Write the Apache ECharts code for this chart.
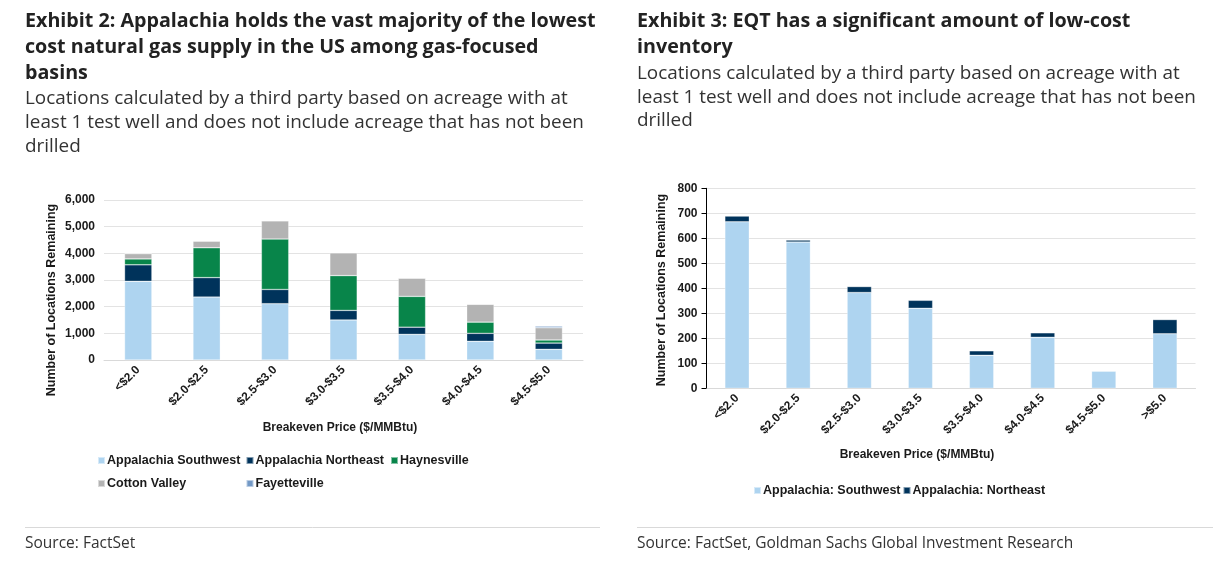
<!DOCTYPE html>
<html>
<head>
<meta charset="utf-8">
<script src="https://cdn.jsdelivr.net/npm/echarts@6/dist/echarts.min.js"></script>
<style>
html,body{margin:0;padding:0;background:#fff;}
#c{width:1213px;height:564px;}
</style>
</head>
<body>
<div id="c"></div>
<script>
// ---- Exhibit 2 data ----
const categoriesL = ['<$2.0', '$2.0-$2.5', '$2.5-$3.0', '$3.0-$3.5', '$3.5-$4.0', '$4.0-$4.5', '$4.5-$5.0'];
const appSouthwest = [2950, 2360, 2110, 1500, 960, 700, 400];
const appNortheast = [620, 730, 535, 360, 270, 300, 235];
const haynesville = [220, 1120, 1890, 1305, 1155, 420, 115];
const cottonValley = [200, 250, 685, 855, 685, 670, 460];
const fayetteville = [0, 0, 0, 0, 0, 0, 60];
const yTicksL = [0, 1000, 2000, 3000, 4000, 5000, 6000];

// ---- Exhibit 3 data ----
const categoriesR = ['<$2.0', '$2.0-$2.5', '$2.5-$3.0', '$3.0-$3.5', '$3.5-$4.0', '$4.0-$4.5', '$4.5-$5.0', '>$5.0'];
const eqtSouthwest = [666, 585, 383, 320, 132, 204, 69, 218];
const eqtNortheast = [23, 8, 24, 32, 18, 18, 0, 57];
const yTicksR = [0, 100, 200, 300, 400, 500, 600, 700, 800];

const C_SW = '#aed4f0', C_NE = '#00335b', C_HV = '#08854a', C_CV = '#b3b3b3', C_FV = '#7399c6';
const AX = 'Liberation Sans, Arial, sans-serif';
const TF = '"Open Sans", sans-serif';
const txt = '#1a1a1a';

const chart = echarts.init(document.getElementById('c'), null, {renderer: 'canvas'});

function legendItem(name, left, top) {
  return {
    data: [name], left: left, top: top, padding: 0, icon: 'rect',
    itemWidth: 7, itemHeight: 7, itemGap: 0,
    textStyle: {fontFamily: AX, fontWeight: 'bold', fontSize: 12.5, color: txt, padding: [0, 0, 0, -3]}
  };
}
function barSeries(name, data, color, stack, xi) {
  return {
    type: 'bar', name: name, data: data, stack: stack, barWidth: '40%',
    xAxisIndex: xi, yAxisIndex: xi,
    itemStyle: {color: color, borderColor: 'rgba(255,255,255,0.5)', borderWidth: 0.6},
    emphasis: {disabled: true}
  };
}

const option = {
  animation: false,
  backgroundColor: '#ffffff',
  title: [
    {text: 'Exhibit 2: Appalachia holds the vast majority of the lowest\ncost natural gas supply in the US among gas-focused\nbasins',
     left: 25, top: 8, padding: 0,
     textStyle: {fontFamily: TF, fontWeight: 'bold', fontSize: 19.7, lineHeight: 26, color: '#222'}},
    {text: 'Locations calculated by a third party based on acreage with at\nleast 1 test well and does not include acreage that has not been\ndrilled',
     left: 25, top: 87, padding: 0,
     textStyle: {fontFamily: TF, fontWeight: 'normal', fontSize: 18.9, lineHeight: 24, color: '#333'}},
    {text: 'Exhibit 3: EQT has a significant amount of low-cost\ninventory',
     left: 637, top: 8, padding: 0,
     textStyle: {fontFamily: TF, fontWeight: 'bold', fontSize: 19.7, lineHeight: 26, color: '#222'}},
    {text: 'Locations calculated by a third party based on acreage with at\nleast 1 test well and does not include acreage that has not been\ndrilled',
     left: 637, top: 62, padding: 0,
     textStyle: {fontFamily: TF, fontWeight: 'normal', fontSize: 18.9, lineHeight: 23.5, color: '#333'}},
    {text: 'Source: FactSet', left: 25, top: 535.5, padding: 0,
     textStyle: {fontFamily: TF, fontWeight: 'normal', fontSize: 15.5, color: '#333'}},
    {text: 'Source: FactSet, Goldman Sachs Global Investment Research', left: 637, top: 535.5, padding: 0,
     textStyle: {fontFamily: TF, fontWeight: 'normal', fontSize: 15.5, color: '#333'}}
  ],
  legend: [
    legendItem('Appalachia Southwest', 97, 454),
    legendItem('Appalachia Northeast', 245.5, 454),
    legendItem('Haynesville', 390, 454),
    legendItem('Cotton Valley', 97, 477),
    legendItem('Fayetteville', 245.5, 477),
    legendItem('Appalachia: Southwest', 753, 484),
    legendItem('Appalachia: Northeast', 902.5, 484)
  ],
  grid: [
    {left: 104, top: 200, width: 479, height: 160, containLabel: false},
    {left: 706.5, top: 188.3, width: 489, height: 200, containLabel: false}
  ],
  xAxis: [
    {type: 'category', gridIndex: 0, data: categoriesL,
     axisLine: {show: true, lineStyle: {color: '#d9d9d9', width: 1}},
     axisTick: {show: false},
     axisLabel: {interval: 0, rotate: 45, margin: 8, fontFamily: AX, fontWeight: 'bold', fontSize: 12, color: txt}},
    {type: 'category', gridIndex: 1, data: categoriesR,
     axisLine: {show: true, lineStyle: {color: '#d9d9d9', width: 1}},
     axisTick: {show: false},
     axisLabel: {interval: 0, rotate: 45, margin: 8, fontFamily: AX, fontWeight: 'bold', fontSize: 12, color: txt}}
  ],
  yAxis: [
    {type: 'value', gridIndex: 0, min: yTicksL[0], max: yTicksL[yTicksL.length - 1], interval: yTicksL[1] - yTicksL[0],
     axisLine: {show: false}, axisTick: {show: false},
     splitLine: {show: true, lineStyle: {color: '#e3e3e3', width: 1}},
     axisLabel: {margin: 9, fontFamily: AX, fontWeight: 'bold', fontSize: 12, color: txt,
                 formatter: v => v.toLocaleString('en-US')}},
    {type: 'value', gridIndex: 1, min: yTicksR[0], max: yTicksR[yTicksR.length - 1], interval: yTicksR[1] - yTicksR[0],
     axisLine: {show: true, lineStyle: {color: '#000', width: 1}},
     axisTick: {show: true, length: 5, lineStyle: {color: '#000'}},
     splitLine: {show: true, lineStyle: {color: '#e3e3e3', width: 1}},
     axisLabel: {margin: 9, fontFamily: AX, fontWeight: 'bold', fontSize: 12, color: txt}}
  ],
  graphic: [
    {type: 'text', x: 52, y: 300, rotation: Math.PI / 2,
     style: {text: 'Number of Locations Remaining', font: 'bold 12.5px ' + AX, fill: txt, align: 'center', verticalAlign: 'middle'}},
    {type: 'text', x: 662, y: 290, rotation: Math.PI / 2,
     style: {text: 'Number of Locations Remaining', font: 'bold 12.5px ' + AX, fill: txt, align: 'center', verticalAlign: 'middle'}},
    {type: 'text', x: 340, y: 428,
     style: {text: 'Breakeven Price ($/MMBtu)', font: 'bold 12px ' + AX, fill: txt, align: 'center', verticalAlign: 'middle'}},
    {type: 'text', x: 917, y: 455,
     style: {text: 'Breakeven Price ($/MMBtu)', font: 'bold 12px ' + AX, fill: txt, align: 'center', verticalAlign: 'middle'}},
    {type: 'line', shape: {x1: 25, y1: 527.5, x2: 600, y2: 527.5}, style: {stroke: '#d9d9d9', lineWidth: 1}},
    {type: 'line', shape: {x1: 637, y1: 527.5, x2: 1213, y2: 527.5}, style: {stroke: '#d9d9d9', lineWidth: 1}}
  ],
  series: [
    barSeries('Appalachia Southwest', appSouthwest, C_SW, 'L', 0),
    barSeries('Appalachia Northeast', appNortheast, C_NE, 'L', 0),
    barSeries('Haynesville', haynesville, C_HV, 'L', 0),
    barSeries('Cotton Valley', cottonValley, C_CV, 'L', 0),
    barSeries('Fayetteville', fayetteville, C_FV, 'L', 0),
    barSeries('Appalachia: Southwest', eqtSouthwest, C_SW, 'R', 1),
    barSeries('Appalachia: Northeast', eqtNortheast, C_NE, 'R', 1)
  ]
};
chart.setOption(option);
</script>
</body>
</html>
